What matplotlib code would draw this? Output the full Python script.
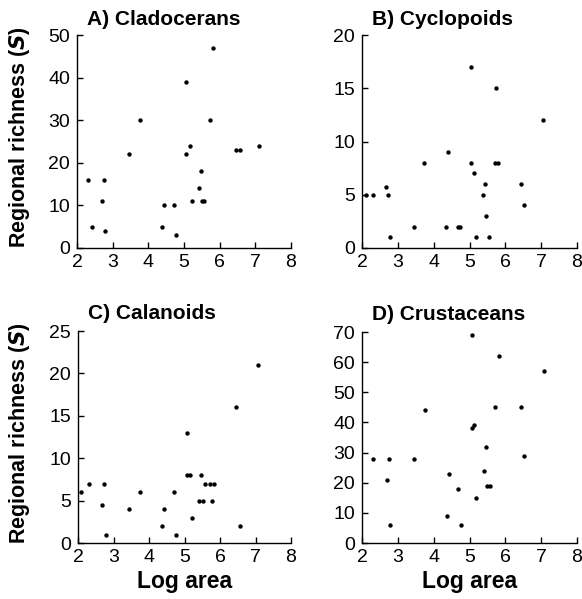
import matplotlib
matplotlib.use("Agg")
import matplotlib.pyplot as plt

# ── Data (log area, regional richness) ───────────────────────────────────────
clad_x = [2.32, 2.42, 2.69, 2.75, 2.79, 3.45, 3.76, 4.38, 4.45, 4.71, 4.78,
          5.07, 5.07, 5.16, 5.22, 5.42, 5.47, 5.51, 5.57, 5.72, 5.82, 6.47,
          6.56, 7.10]
clad_y = [16, 5, 11, 16, 4, 22, 30, 5, 10, 10, 3,
          39, 22, 24, 11, 14, 18, 11, 11, 30, 47, 23,
          23, 24]

cycl_x = [2.10, 2.30, 2.67, 2.73, 2.78, 3.44, 3.74, 4.35, 4.41, 4.67, 4.74,
          5.04, 5.04, 5.13, 5.19, 5.39, 5.44, 5.47, 5.54, 5.70, 5.74, 5.80,
          6.43, 6.51, 7.05]
cycl_y = [5, 5, 5.7, 5, 1, 2, 8, 2, 9, 2, 2,
          17, 8, 7, 1, 5, 6, 3, 1, 8, 15, 8,
          6, 4, 12]

cala_x = [2.09, 2.31, 2.67, 2.73, 2.79, 3.44, 3.75, 4.36, 4.43, 4.70, 4.76,
          5.06, 5.06, 5.15, 5.21, 5.41, 5.46, 5.51, 5.57, 5.72, 5.78, 5.82,
          6.46, 6.55, 7.08]
cala_y = [6, 7, 4.5, 7, 1, 4, 6, 2, 4, 6, 1,
          13, 8, 8, 3, 5, 8, 5, 7, 7, 5, 7,
          16, 2, 21]

crus_x = [2.32, 2.75, 2.69, 2.79, 3.45, 3.77, 4.37, 4.43, 4.69, 4.77,
          5.07, 5.07, 5.13, 5.19, 5.41, 5.46, 5.49, 5.56, 5.71, 5.82,
          6.45, 6.53, 7.07]
crus_y = [28, 28, 21, 6, 28, 44, 9, 23, 18, 6,
          69, 38, 39, 15, 24, 32, 19, 19, 45, 62,
          45, 29, 57]

panels = [
    ("A) Cladocerans", clad_x, clad_y, 50, [0, 10, 20, 30, 40, 50]),
    ("B) Cyclopoids",  cycl_x, cycl_y, 20, [0, 5, 10, 15, 20]),
    ("C) Calanoids",   cala_x, cala_y, 25, [0, 5, 10, 15, 20, 25]),
    ("D) Crustaceans", crus_x, crus_y, 70, [0, 10, 20, 30, 40, 50, 60, 70]),
]
x_ticks = [2, 3, 4, 5, 6, 7, 8]

plt.rcParams.update({
    "font.family": ["Liberation Sans", "DejaVu Sans"],
    "font.size": 14,
    "axes.linewidth": 1.0,
})

W, H = 582, 599
fig = plt.figure(figsize=(W / 100, H / 100), dpi=100)

# axes boxes in pixel coords: left, top, right, bottom
boxes = [
    (77, 35, 291, 248),
    (362, 35, 577, 248),
    (78, 331, 291, 543),
    (362, 332, 577, 543),
]

for i, ((title, xs, ys, ymax, yt), (l, t, r, b)) in enumerate(zip(panels, boxes)):
    ax = fig.add_axes([l / W, 1 - b / H, (r - l) / W, (b - t) / H])
    ax.scatter(xs, ys, s=10, color="black", linewidths=0, zorder=3)
    ax.set_xlim(2, 8)
    ax.set_ylim(0, ymax)
    ax.set_xticks(x_ticks)
    ax.set_yticks(yt)
    ax.spines["top"].set_visible(False)
    ax.spines["right"].set_visible(False)
    ax.tick_params(direction="in", length=4, width=1, labelsize=14)
    ax.tick_params(axis="y", pad=5)
    ax.tick_params(axis="x", pad=4)
    gap = 10 if i < 2 else 12
    ax.text(10 / (r - l), 1 + gap / (b - t), title, transform=ax.transAxes,
            fontsize=15, fontweight="bold", ha="left", va="baseline")
    if i % 2 == 0:
        ax.set_ylabel("Regional richness ($\\mathbfit{S}$)", fontsize=15.5,
                      fontweight="bold")
        # label anchor is its right edge (rotated text)
        ax.yaxis.set_label_coords(-(l - 32) / (r - l), 0.52)
    if i >= 2:
        ax.set_xlabel("Log area", fontsize=16.5, fontweight="bold", labelpad=3)

fig.savefig("out.png", dpi=100, facecolor="white")
